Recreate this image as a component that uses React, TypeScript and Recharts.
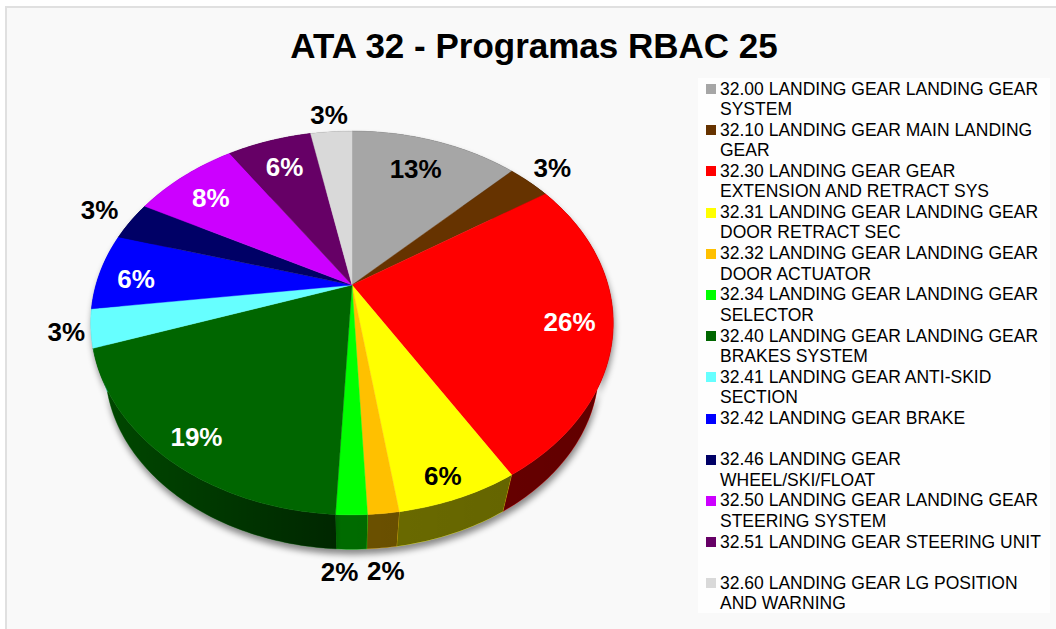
import { Legend, Pie, PieChart } from 'recharts'

const categories = [
  '32.00 LANDING GEAR LANDING GEAR SYSTEM',
  '32.10 LANDING GEAR MAIN LANDING GEAR',
  '32.30 LANDING GEAR GEAR EXTENSION AND RETRACT SYS',
  '32.31 LANDING GEAR LANDING GEAR DOOR RETRACT SEC',
  '32.32 LANDING GEAR LANDING GEAR DOOR ACTUATOR',
  '32.34 LANDING GEAR LANDING GEAR SELECTOR',
  '32.40 LANDING GEAR LANDING GEAR BRAKES SYSTEM',
  '32.41 LANDING GEAR ANTI-SKID SECTION',
  '32.42 LANDING GEAR BRAKE',
  '32.46 LANDING GEAR WHEEL/SKI/FLOAT',
  '32.50 LANDING GEAR LANDING GEAR STEERING SYSTEM',
  '32.51 LANDING GEAR STEERING UNIT',
  '32.60 LANDING GEAR LG POSITION AND WARNING',
]
const values = [12.6, 3.2, 25.6, 6.3, 1.6, 1.6, 19, 3.2, 6.45, 3.3, 7.9, 6.3, 3.1]
const colors = [
  '#a6a6a6', '#663300', '#ff0000', '#ffff00', '#ffc000', '#00ff00', '#006600',
  '#66ffff', '#0000ff', '#000066', '#cc00ff', '#660066', '#d9d9d9',
]
const labelColors = [
  '#000', '#000', '#fff', '#000', '#000', '#000', '#fff',
  '#000', '#fff', '#000', '#fff', '#fff', '#000',
]
// how far out each percent label sits, as a share of the pie radius
const labelRadius = [0.77, 1.15, 0.84, 0.91, 1.19, 1.19, 0.88, 1.09, 0.85, 1.16, 0.8, 0.79, 1.13]
// small turn away from the slice's middle, in degrees, for labels that sit off-centre
const labelTurn = [1, 0, -0.5, -1, -0.8, -1.7, 0.7, 0, 2, -0.5, 1.5, 0, 0]

const pieData = categories.map((name, i) => ({ name, value: values[i], fill: colors[i] }))

const RADIUS = 256
// tilted disc: the far side shrinks, so the apex sits above the centre of the ellipse
const TILT = 0.198
const SQUASH = 0.72
const DEPTH_SCALE = 0.945
const DEPTH_DROP = 47

function project(cx: number, cy: number, r: number, deg: number) {
  const a = (deg * Math.PI) / 180
  const u = r * Math.cos(a)
  const v = r * Math.sin(a)
  const w = 1 + TILT * v
  return { x: cx + (RADIUS * u) / w, y: cy - (RADIUS * SQUASH * v) / w }
}

function arcPoints(cx: number, cy: number, start: number, end: number) {
  const steps = Math.max(2, Math.ceil(Math.abs(end - start)))
  const pts = []
  for (let i = 0; i <= steps; i++) {
    pts.push(project(cx, cy, 1, start + ((end - start) * i) / steps))
  }
  return pts
}

const toPath = (pts: Array<{ x: number; y: number }>) =>
  pts.map((p, i) => `${i === 0 ? 'M' : 'L'}${p.x.toFixed(2)},${p.y.toFixed(2)}`).join(' ') + ' Z'

function TopSlice(props: any) {
  const { cx, cy, startAngle, endAngle, fill } = props
  const d = toPath([{ x: cx, y: cy }, ...arcPoints(cx, cy, startAngle, endAngle)])
  return <path d={d} fill={fill} stroke={fill} strokeWidth={0.4} />
}

function WallSlice(props: any) {
  const { cx, cy, startAngle, endAngle, fill } = props
  const top = arcPoints(cx, cy, startAngle, endAngle)
  const bottom = top
    .map((p) => ({
      x: cx + (p.x - cx) * DEPTH_SCALE,
      y: cy + (p.y - cy) * DEPTH_SCALE + DEPTH_DROP,
    }))
    .reverse()
  const d = toPath([...top, ...bottom])
  return (
    <g>
      <path d={d} fill={fill} stroke={fill} strokeWidth={0.4} />
      <path d={d} fill="url(#wallShade)" stroke="none" />
    </g>
  )
}

function renderLabel(props: any) {
  const { cx, cy, midAngle, percent, index } = props
  const p = project(cx, cy, labelRadius[index], midAngle + labelTurn[index])
  return (
    <text
      x={p.x}
      y={p.y}
      textAnchor="middle"
      dominantBaseline="central"
      fill={labelColors[index]}
      fontFamily="Liberation Sans"
      fontWeight="bold"
      fontSize={26}
    >
      {`${Math.round(percent * 100)}%`}
    </text>
  )
}

function renderLegend() {
  return (
    <div
      style={{
        background: '#fefefe',
        width: 352,
        height: 535,
        boxSizing: 'border-box',
        paddingTop: 0.5,
        fontFamily: 'Liberation Sans',
        fontSize: 17.5,
        lineHeight: '20.4px',
        color: '#000',
      }}
    >
      {pieData.map((entry) => (
        <div key={entry.name} style={{ height: 41.2, position: 'relative', paddingLeft: 22, width: 330 }}>
          <span
            style={{
              position: 'absolute',
              left: 8,
              top: 5.5,
              width: 10,
              height: 10,
              background: entry.fill,
            }}
          />
          {entry.name}
        </div>
      ))}
    </div>
  )
}

export default function App() {
  return (
    <div style={{ position: 'absolute', left: 0, top: 0, width: 1056, height: 629, background: '#fff', overflow: 'hidden' }}>
      <style>{`.wall-pie { filter: drop-shadow(1px 5px 3px rgba(0,0,0,0.45)); }`}</style>
      <div
        style={{
          position: 'absolute',
          left: 5,
          top: 6,
          width: 1051,
          height: 623,
          boxSizing: 'border-box',
          background: '#f9f9f9',
          borderLeft: '2px solid #e0e0e0',
          borderTop: '2px solid #e0e0e0',
        }}
      />
      <div style={{ position: 'absolute', left: 0, top: 0 }}>
        <PieChart width={1056} height={629} margin={{ top: 0, right: 0, bottom: 0, left: 0 }}>
          <defs>
            <linearGradient id="wallShade" gradientUnits="userSpaceOnUse" x1={90} y1={0} x2={613} y2={0}>
              <stop offset="0" stopColor="#000" stopOpacity={0.28} />
              <stop offset="0.47" stopColor="#000" stopOpacity={0.62} />
              <stop offset="0.48" stopColor="#000" stopOpacity={0.58} />
              <stop offset="1" stopColor="#000" stopOpacity={0.62} />
            </linearGradient>
          </defs>
          <text
            x={534}
            y={45}
            textAnchor="middle"
            dominantBaseline="central"
            fontFamily="Liberation Sans"
            fontWeight="bold"
            fontSize={35}
            fill="#000"
          >
            ATA 32 - Programas RBAC 25
          </text>
          <Pie
            className="wall-pie"
            data={pieData}
            dataKey="value"
            nameKey="name"
            cx={352}
            cy={285}
            outerRadius={RADIUS}
            startAngle={90}
            endAngle={-270}
            stroke="none"
            legendType="none"
            shape={WallSlice}
            isAnimationActive={false}
          />
          <Pie
            data={pieData}
            dataKey="value"
            nameKey="name"
            cx={352}
            cy={285}
            outerRadius={RADIUS}
            startAngle={90}
            endAngle={-270}
            stroke="none"
            shape={TopSlice}
            label={renderLabel}
            labelLine={false}
            isAnimationActive={false}
          />
          <Legend
            content={renderLegend}
            wrapperStyle={{ left: 698, top: 78, width: 352, height: 535, bottom: 'auto', right: 'auto' }}
          />
        </PieChart>
      </div>
    </div>
  )
}
